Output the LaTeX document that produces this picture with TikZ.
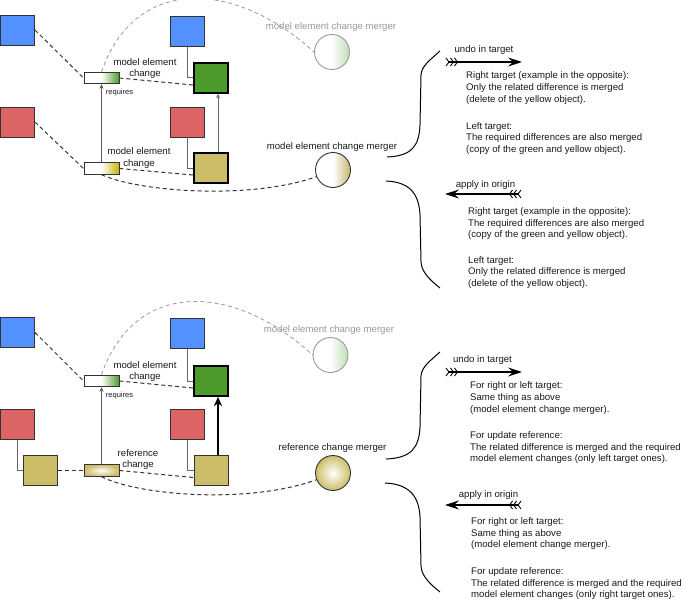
\documentclass[tikz,border=0pt]{standalone}
\usepackage{fontspec}
\setmainfont{Liberation Sans}
\usetikzlibrary{arrows.meta}
\definecolor{cblue}{HTML}{5291FF}
\definecolor{cred}{HTML}{DD6464}
\definecolor{cgreen}{HTML}{4E9B2D}
\definecolor{ckhaki}{HTML}{CCBD68}
\definecolor{cyel}{HTML}{C8B400}
\definecolor{clgreen}{HTML}{BFDDB5}
\definecolor{ckhaki2}{HTML}{C5B36E}
\begin{document}
\begin{tikzpicture}[x=1pt,y=-1pt,
  sq/.style={draw=black!80, line width=0.9pt, minimum width=34pt, minimum height=30pt, inner sep=0pt},
  thicksq/.style={sq, draw=black, line width=1.8pt},
  chg/.style={draw=black!80, line width=0.9pt, minimum width=35pt, minimum height=11.5pt, inner sep=0pt},
  merger/.style={circle, draw=black!80, line width=0.9pt, minimum size=35pt, inner sep=0pt},
  lbl/.style={font=\fontsize{9.6}{11.5}\selectfont, text=black!90, inner sep=0pt, align=center},
  txt/.style={lbl, anchor=base west},
  glbl/.style={lbl, text=black!40},
  small/.style={lbl, font=\fontsize{7.5}{9}\selectfont},
  dsh/.style={draw=black!80, line width=1pt, dash pattern=on 4pt off 3pt},
  gdsh/.style={draw=black!40, line width=0.8pt, dash pattern=on 4pt off 3pt},
  conn/.style={draw=black!60, line width=1pt},
  req/.style={draw=black!65, line width=0.9pt, -{Stealth[length=4.5pt,width=4pt]}},
  bigreq/.style={draw=black, line width=2pt, -{Stealth[length=9pt,width=8pt,inset=2.5pt]}},
  bracel/.style={draw=black, line width=1pt},
  fletch/.style={draw=black, line width=1.1pt, {Straight Barb[reversed,length=3pt,width=8pt,line width=0.9pt,sep=0.5pt]Straight Barb[reversed,length=3pt,width=8pt,line width=0.9pt,sep=0.5pt]Straight Barb[reversed,length=3pt,width=8pt,line width=0.9pt]}-{Stealth[length=14pt,width=9pt,inset=5pt]}}
]
\useasboundingbox (0,0) rectangle (684,599);

%% ---------------- top half ----------------
\node[sq, fill=cblue] (bl1) at (17.5,30) {};
\node[sq, fill=cred] (rl1) at (17.5,122) {};
\node[sq, fill=cblue] (br1) at (187.5,31.5) {};
\node[thicksq, fill=cgreen] (g1) at (211,78) {};
\node[sq, fill=cred] (rr1) at (187.5,122) {};
\node[thicksq, fill=ckhaki] (y1) at (211,168) {};
\node[chg, left color=white, right color=cgreen, middle color=white] (t1) at (101.5,78) {};
\node[chg, left color=white, right color=cyel, middle color=white] (b1) at (101.5,168.5) {};
\node[merger, draw=black!40, left color=white, right color=clgreen, middle color=white] (f1) at (332,52) {};
\node[merger, left color=white, right color=ckhaki2, middle color=white] (m1) at (333,170) {};

\node[glbl] (lf1) at (331,27) {model element change merger};
\node[lbl] (lm1) at (332,147) {model element change merger};
\node[lbl] (lt1) at (145,68.5) {model element\\change};
\node[lbl] (lb1) at (139,158) {model element\\change};
\node[small] (lr1) at (119.5,92.5) {requires};

\draw[conn] (br1.south) |- (g1.west);
\draw[conn] (rr1.south) |- (y1.west);
\draw[req] (b1.north) -- (t1.south);
\draw[conn, -{Stealth[length=4.5pt,width=4pt]}] ([xshift=7pt]y1.north) -- ([xshift=7pt]g1.south);
\draw[dsh] (bl1.east) -- (t1.west);
\draw[dsh] (rl1.east) -- (b1.west);
\draw[dsh] (t1.east) -- ([yshift=-7pt]g1.west);
\draw[dsh] (b1.east) -- ([yshift=-7pt]y1.west);
\draw[dsh] (b1.south) .. controls (140,192) and (250,200) .. (m1.202);
\draw[gdsh] (t1.north) .. controls (135,-25) and (235,-20) .. (f1.west);

\coordinate (ba1) at (387,157);
\coordinate (ba2) at (440,51);
\coordinate (bb1) at (386,181);
\coordinate (bb2) at (440,288);
\draw[bracel] (ba1) .. controls (412,156) and (419,146) .. (420,125) -- (421,75) .. controls (421.5,66) and (430,60) .. (ba2);
\draw[bracel] (bb1) .. controls (410,182) and (419,194) .. (420,215) -- (421,262) .. controls (421.5,272) and (430,280) .. (bb2);

\coordinate (ua1) at (445,62);
\coordinate (ua2) at (522,62);
\draw[fletch] (ua1) -- (ua2);
\node[lbl] (ul1) at (484,50) {undo in target};
\coordinate (aa1) at (522,194);
\coordinate (aa2) at (445,194);
\draw[fletch] (aa1) -- (aa2);
\node[lbl] (al1) at (485.5,185) {apply in origin};

\node[txt] (x1) at (466,78.5) {Right target (example in the opposite):};
\node[txt] (x2) at (466,90.3) {Only the related difference is merged};
\node[txt] (x3) at (466,102.3) {(delete of the yellow object).};
\node[txt] (x4) at (466,129) {Left target:};
\node[txt] (x5) at (466,140.8) {The required differences are also merged};
\node[txt] (x6) at (466,152.3) {(copy of the green and yellow object).};

\node[txt] (x7) at (468,214.5) {Right target (example in the opposite):};
\node[txt] (x8) at (468,226.2) {The required differences are also merged};
\node[txt] (x9) at (468,237.8) {(copy of the green and yellow object).};
\node[txt] (x10) at (468,263.5) {Left target:};
\node[txt] (x11) at (468,274.5) {Only the related difference is merged};
\node[txt] (x12) at (468,286) {(delete of the yellow object).};

%% ---------------- bottom half ----------------
\node[sq, fill=cblue] (bl2) at (17.5,332.5) {};
\node[sq, fill=cred] (rl2) at (17.5,424.5) {};
\node[sq, fill=ckhaki] (yl2) at (40.5,470.5) {};
\node[sq, fill=cblue] (br2) at (187.5,333.5) {};
\node[thicksq, fill=cgreen] (g2) at (211,381) {};
\node[sq, fill=cred] (rr2) at (187.5,424.5) {};
\node[sq, fill=ckhaki] (y2) at (211,470.5) {};
\node[chg, left color=white, right color=cgreen, middle color=white] (t2) at (101.5,381) {};
\node[chg, inner color=white, outer color=ckhaki] (r2) at (101.5,470.5) {};
\node[merger, draw=black!40, left color=white, right color=clgreen, middle color=white] (f2) at (330.5,355) {};
\node[merger, inner color=white, outer color=ckhaki] (m2) at (333,473) {};

\node[glbl] (lf2) at (329,330) {model element change merger};
\node[lbl] (lm2) at (332.5,448) {reference change merger};
\node[lbl] (lt2) at (145,371.5) {model element\\change};
\node[lbl] (lb2) at (138,459.5) {reference\\change};
\node[small] (lr2) at (119.5,395.5) {requires};

\draw[conn] (br2.south) |- (g2.west);
\draw[conn] (rr2.south) |- (y2.west);
\draw[conn] (rl2.south) |- (yl2.west);
\draw[req] (r2.north) -- (t2.south);
\draw[bigreq] ([xshift=7pt]y2.north) -- ([xshift=7pt]g2.south);
\draw[dsh] (bl2.east) -- (t2.west);
\draw[dsh] (yl2.east) -- (r2.west);
\draw[dsh] (t2.east) -- ([yshift=-7pt]g2.west);
\draw[dsh] (r2.east) -- ([yshift=-7pt]y2.west);
\draw[dsh] (r2.south) .. controls (140,496) and (250,504) .. (m2.202);
\draw[gdsh] (t2.north) .. controls (135,278) and (235,283) .. (f2.west);

\coordinate (bc1) at (386,459);
\coordinate (bc2) at (440,352);
\coordinate (bd1) at (385,483);
\coordinate (bd2) at (440,592);
\draw[bracel] (bc1) .. controls (411,458) and (419,448) .. (420,427) -- (421,376) .. controls (421.5,367) and (430,361) .. (bc2);
\draw[bracel] (bd1) .. controls (409,484) and (419,496) .. (420,517) -- (421,566) .. controls (421.5,576) and (430,584) .. (bd2);

\coordinate (ub1) at (445,372);
\coordinate (ub2) at (522,372);
\draw[fletch] (ub1) -- (ub2);
\node[lbl] (ul2) at (482.5,360) {undo in target};
\coordinate (ab1) at (522,505);
\coordinate (ab2) at (445,505);
\draw[fletch] (ab1) -- (ab2);
\node[lbl] (al2) at (488.5,495) {apply in origin};

\node[txt] (y1t) at (470,388.5) {For right or left target:};
\node[txt] (y2t) at (470,400.5) {Same thing as above};
\node[txt] (y3t) at (470,412.5) {(model element change merger).};
\node[txt] (y4t) at (470,438.5) {For update reference:};
\node[txt] (y5t) at (470,450.2) {The related difference is merged and the required};
\node[txt] (y6t) at (470,461.8) {model element changes (only left target ones).};

\node[txt] (y7t) at (471,524.5) {For right or left target:};
\node[txt] (y8t) at (471,536) {Same thing as above};
\node[txt] (y9t) at (471,547.5) {(model element change merger).};
\node[txt] (y10t) at (471,574.5) {For update reference:};
\node[txt] (y11t) at (471,586) {The related difference is merged and the required};
\node[txt] (y12t) at (471,597.5) {model element changes (only right target ones).};
\end{tikzpicture}
\end{document}
